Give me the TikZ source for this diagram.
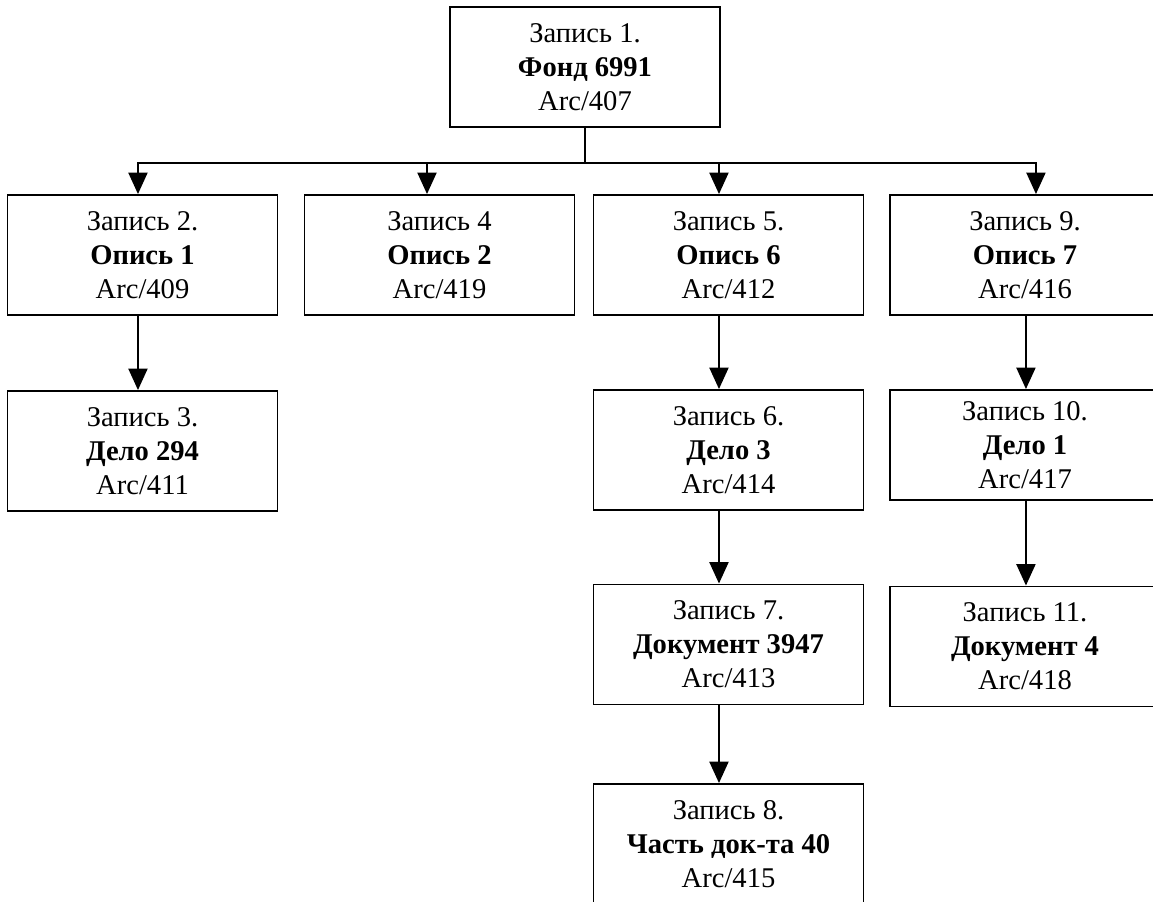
\documentclass[tikz,border=0pt]{standalone}
\usepackage{fontspec}
\setmainfont{Liberation Serif}
\usetikzlibrary{arrows.meta}
\begin{document}
\begin{tikzpicture}[x=0.42pt,y=-0.42pt,
  rec/.style={draw,line width=0.8pt,minimum width=113.4pt,minimum height=50.4pt,
    inner sep=0pt,align=center,font=\fontsize{12}{14.3}\selectfont},
  link/.style={line width=0.8pt,-{Triangle[length=9pt,width=8pt]}}]
\useasboundingbox (0,0) rectangle (1153,902);
% top record
\node[rec](b1) at (585,67) {Запись 1.\\\textbf{Фонд 6991}\\Arc/407};
% second row
\node[rec](b2) at (142.5,255) {Запись 2.\\\textbf{Опись 1}\\Arc/409};
\node[rec](b4) at (439.5,255) {Запись 4\\\textbf{Опись 2}\\Arc/419};
\node[rec](b5) at (728.5,255) {Запись 5.\\\textbf{Опись 6}\\Arc/412};
\node[rec](b9) at (1025,255) {Запись 9.\\\textbf{Опись 7}\\Arc/416};
% third row
\node[rec](b3) at (142.5,451) {Запись 3.\\\textbf{Дело 294}\\Arc/411};
\node[rec](b6) at (728.5,450) {Запись 6.\\\textbf{Дело 3}\\Arc/414};
\node[rec,minimum height=46.2pt](b10) at (1025,445) {Запись 10.\\\textbf{Дело 1}\\Arc/417};
% fourth row
\node[rec](b7) at (728.5,644.5) {Запись 7.\\\textbf{Документ 3947}\\Arc/413};
\node[rec](b11) at (1025,646.5) {Запись 11.\\\textbf{Документ 4}\\Arc/418};
% fifth row
\node[rec](b8) at (728.5,844) {Запись 8.\\\textbf{Часть док-та 40}\\Arc/415};
% links
\coordinate (bus) at (585,163);
\draw[line width=0.8pt](b1.south)--(bus);
\draw[link](bus)-|([xshift=-1.9pt]b2.north);
\draw[link](bus)-|([xshift=-5.25pt]b4.north);
\draw[link](bus)-|([xshift=-4pt]b5.north);
\draw[link](bus)-|([xshift=4.6pt]b9.north);
\draw[link]([xshift=-1.9pt]b2.south)--([xshift=-1.9pt]b3.north);
\draw[link]([xshift=-4pt]b5.south)--([xshift=-4pt]b6.north);
\draw[link]([xshift=-4pt]b6.south)--([xshift=-4pt]b7.north);
\draw[link]([xshift=-4pt]b7.south)--([xshift=-4pt]b8.north);
\draw[link]([xshift=0.4pt]b9.south)--([xshift=0.4pt]b10.north);
\draw[link]([xshift=0.4pt]b10.south)--([xshift=0.4pt]b11.north);
\end{tikzpicture}
\end{document}
